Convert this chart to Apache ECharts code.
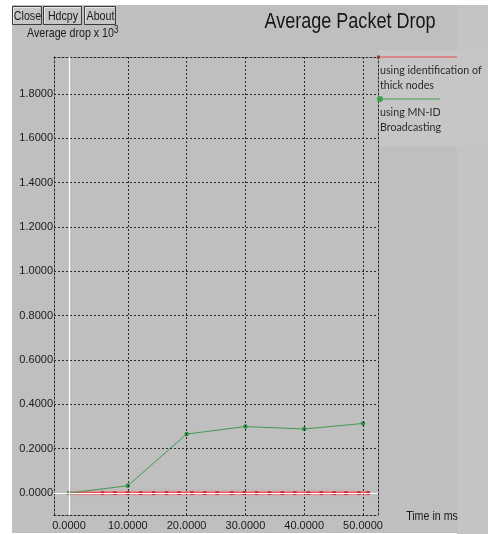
<!DOCTYPE html>
<html>
<head>
<meta charset="utf-8">
<script src="https://cdn.jsdelivr.net/npm/echarts@6/dist/echarts.min.js"></script>
<style>
  html, body { margin: 0; padding: 0; background: #ffffff; }
  #chart { width: 488px; height: 534px; }
</style>
</head>
<body>
<div id="chart"></div>
<script>
// Axis tick values
const xTicks = [0, 10, 20, 30, 40, 50];
const yTicks = [0, 0.2, 0.4, 0.6, 0.8, 1.0, 1.2, 1.4, 1.6, 1.8];

// Series: MN-ID broadcasting (green)
const mnidTime = [0, 10, 20, 30, 40, 50];
const mnidDrop = [0, 0.033, 0.266, 0.300, 0.289, 0.314];

// Series: identification of thick nodes (red)
const thickTime = [0, 5.7, 7.8, 10.0, 12.2, 14.4, 16.6, 18.7, 20.9, 23.1, 25.2, 27.7,
                   29.8, 31.9, 34.1, 36.3, 38.4, 40.7, 42.9, 45.1, 47.1, 49.3, 50.9];
const thickDrop = [0, 0, 0, 0, 0, 0, 0, 0, 0, 0, 0, 0,
                   0, 0, 0, 0, 0, 0, 0, 0, 0, 0, 0];

const seriesNames = ['using identification of thick nodes', 'using MN-ID Broadcasting'];
const legendLines = [['using identification of', 'thick nodes'], ['using MN-ID', 'Broadcasting']];
const buttonLabels = ['Close', 'Hdcpy', 'About'];
const titleText = 'Average Packet Drop';
const yTitleText = 'Average drop x 10';
const yTitleExp = '3';
const xTitleText = 'Time in ms';

const SANS = '"Liberation Sans", Arial, sans-serif';
const LEGEND_FONT = 'Lato, "Open Sans", sans-serif';
const NARROW_SCALE = 0.82;
const GRID_DASH = [2, 2];

const zip = (xs, ys) => xs.map((x, i) => [x, ys[i]]);

// Text element squeezed horizontally around its anchor point
function label(text, x, y, size, align, opts) {
  opts = opts || {};
  return {
    type: 'text', z: opts.z || 5, x: x, y: y, scaleX: opts.scaleX || NARROW_SCALE,
    style: {
      text: text, x: 0, y: 0, align: align, verticalAlign: 'middle',
      textAlign: align, textVerticalAlign: 'middle',
      fill: opts.fill || '#1a1a1a', font: size + 'px ' + (opts.family || SANS)
    }
  };
}

// Window background and panels
const buttonBoxes = [[12, 6, 29, 18], [43, 6, 38, 18], [84, 6, 31, 18]];
const graphics = [
  { type: 'rect', z: -10, shape: { x: 12, y: 5, width: 445, height: 528 }, style: { fill: '#bfbfbf' } },
  { type: 'rect', z: -10, shape: { x: 457, y: 5, width: 31, height: 529 }, style: { fill: '#c4c4c4' } },
  { type: 'rect', z: -9, shape: { x: 378, y: 50, width: 110, height: 96 }, style: { fill: '#c6c6c6' } }
];
buttonLabels.forEach((text, i) => {
  const [bx, by, bw, bh] = buttonBoxes[i];
  graphics.push({ type: 'rect', z: 5, shape: { x: bx + 0.5, y: by + 0.5, width: bw, height: bh },
    style: { fill: '#c6c6c6', stroke: '#3a3a3a', lineWidth: 1 } });
  graphics.push({ type: 'polyline', z: 6,
    shape: { points: [[bx + 1.5, by + bh - 0.5], [bx + 1.5, by + 1.5], [bx + bw - 0.5, by + 1.5]] },
    style: { stroke: '#e8e8e8', lineWidth: 1, fill: null } });
  graphics.push(label(text, bx + bw / 2 + 1, by + bh / 2 + 1.5, 13, 'center', { z: 7 }));
});

// Titles
graphics.push(label(titleText, 350, 22, 22, 'center', { fill: '#151515' }));
graphics.push(label(yTitleText, 27, 33, 13, 'left'));
graphics.push(label(yTitleExp, 114, 30, 10, 'left'));
graphics.push(label(xTitleText, 432, 516, 13, 'center'));

// Legend
const legendColors = ['#e34850', '#3f9f4f'];
const legendY = [57, 99];
const legendEnd = [457, 440];
legendLines.forEach((lines, i) => {
  graphics.push({ type: 'line', z: 5, shape: { x1: 378, y1: legendY[i], x2: legendEnd[i], y2: legendY[i] },
    style: { stroke: legendColors[i], lineWidth: 1.2 } });
  if (i === 0) {
    graphics.push({ type: 'rect', z: 6, shape: { x: 377, y: legendY[i] - 1.5, width: 3, height: 3 },
      style: { fill: '#9a3a3a' } });
  } else {
    graphics.push({ type: 'circle', z: 6, shape: { cx: 380, cy: legendY[i], r: 3 },
      style: { fill: '#3aa04c' } });
  }
  lines.forEach((t, j) => {
    graphics.push(label(t, 380, legendY[i] + 13 + j * 15, 11.5, 'left',
      { family: LEGEND_FONT, scaleX: 0.93, fill: '#2a2a2a' }));
  });
});

const xMin = -2.55, xMax = 52.55, yMin = -0.099, yMax = 1.967;
const frameLine = { show: true, onZero: false, lineStyle: { color: '#2a2a2a', width: 1, type: GRID_DASH } };

const option = {
  backgroundColor: '#ffffff',
  animation: false,
  grid: { left: 54, right: 110, top: 57, bottom: 19, containLabel: false },
  xAxis: [
    { type: 'value', position: 'bottom', min: xMin, max: xMax,
      axisLine: frameLine, axisTick: { show: false }, splitLine: { show: false },
      axisLabel: { customValues: xTicks, formatter: v => v.toFixed(4), margin: 5,
        color: '#1a1a1a', fontSize: 11, fontFamily: SANS } },
    { type: 'value', position: 'top', min: xMin, max: xMax,
      axisLine: frameLine, axisTick: { show: false }, splitLine: { show: false }, axisLabel: { show: false } }
  ],
  yAxis: [
    { type: 'value', position: 'left', min: yMin, max: yMax,
      axisLine: frameLine, axisTick: { show: false }, splitLine: { show: false },
      axisLabel: { customValues: yTicks, formatter: v => v.toFixed(4), margin: 1,
        color: '#1a1a1a', fontSize: 11, fontFamily: SANS } },
    { type: 'value', position: 'right', min: yMin, max: yMax,
      axisLine: frameLine, axisTick: { show: false }, splitLine: { show: false }, axisLabel: { show: false } }
  ],
  graphic: graphics,
  series: [
    // grid lines and white zero axes
    { type: 'line', data: [], z: 1, silent: true,
      markLine: {
        silent: true, symbol: ['none', 'none'], label: { show: false },
        lineStyle: { color: '#2a2a2a', width: 1, type: GRID_DASH },
        data: [
          ...xTicks.filter(v => v !== 0).map(v => ({ xAxis: v })),
          ...yTicks.filter(v => v !== 0).map(v => ({ yAxis: v })),
          { xAxis: 0, lineStyle: { color: '#ffffff', type: 'solid', width: 1.2 } },
          { yAxis: 0, lineStyle: { color: '#ffffff', type: 'solid', width: 1.2 } }
        ]
      } },
    { name: seriesNames[0], type: 'line', z: 3, data: zip(thickTime, thickDrop),
      symbol: 'rect', symbolSize: 3.5, showSymbol: true,
      lineStyle: { color: '#ec5058', width: 2.5, shadowColor: 'rgba(245,120,130,0.9)', shadowBlur: 3 },
      itemStyle: { color: '#c81e2a' } },
    { name: seriesNames[1], type: 'line', z: 4, data: zip(mnidTime, mnidDrop),
      symbol: 'circle', symbolSize: 4.5, showSymbol: true,
      lineStyle: { color: '#3e9b50', width: 1 },
      itemStyle: { color: '#2f9444' } }
  ]
};

const chart = echarts.init(document.getElementById('chart'), null, { renderer: 'canvas' });
chart.setOption(option);
</script>
</body>
</html>
